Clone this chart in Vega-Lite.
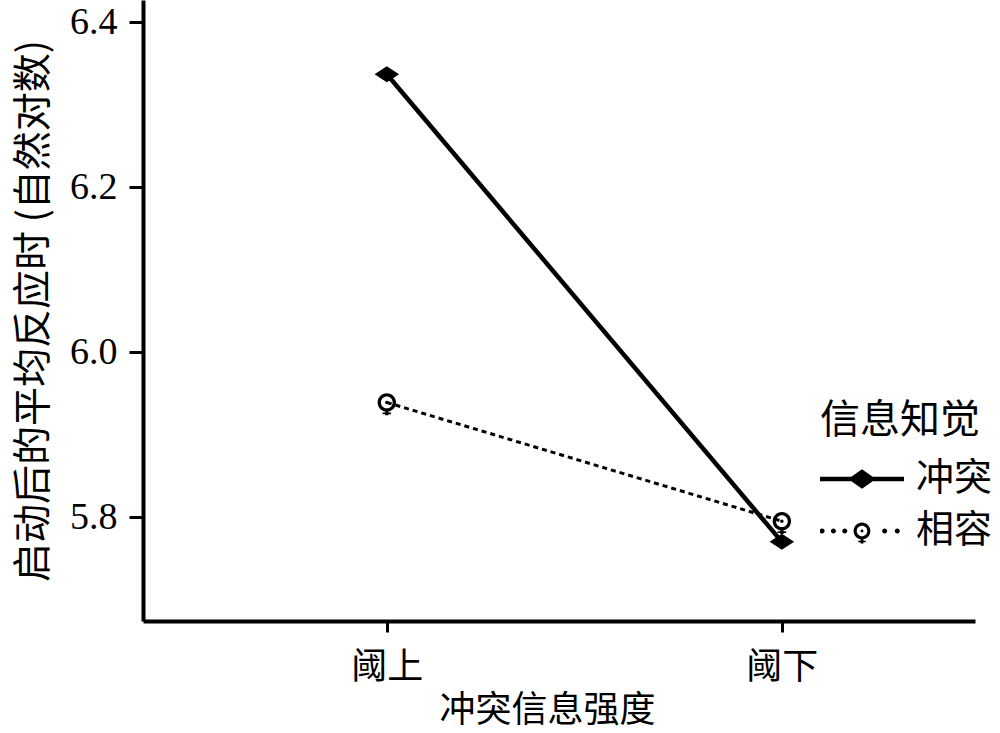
{
  "$schema": "https://vega.github.io/schema/vega-lite/v6.json",
  "width": 832,
  "height": 621,
  "autosize": "none",
  "padding": {"left": 143, "top": 0, "right": 25, "bottom": 112},
  "background": "white",
  "config": {
    "view": {"stroke": null},
    "font": "Noto Sans CJK SC"
  },
  "data": {
    "values": [
      {"intensity": "阈上", "group": "冲突", "rt": 6.337},
      {"intensity": "阈下", "group": "冲突", "rt": 5.770},
      {"intensity": "阈上", "group": "相容", "rt": 5.939},
      {"intensity": "阈下", "group": "相容", "rt": 5.795}
    ]
  },
  "encoding": {
    "x": {
      "field": "intensity",
      "type": "nominal",
      "sort": ["阈上", "阈下"],
      "scale": {"type": "point", "padding": 0.553, "align": 0.558},
      "axis": {
        "title": "冲突信息强度",
        "labelAngle": 0,
        "domainColor": "black",
        "domainWidth": 4,
        "tickColor": "black",
        "tickWidth": 3,
        "tickSize": 11,
        "labelFont": "Noto Sans CJK SC",
        "labelFontSize": 36,
        "labelColor": "black",
        "labelPadding": 18,
        "titleFont": "Noto Sans CJK SC",
        "titleFontSize": 36,
        "titleFontWeight": "normal",
        "titleColor": "black",
        "titlePadding": 8,
        "titleX": 404,
        "grid": false
      }
    },
    "y": {
      "field": "rt",
      "type": "quantitative",
      "scale": {"domain": [5.674, 6.427], "nice": false, "zero": false},
      "axis": {
        "title": "启动后的平均反应时 (自然对数)",
        "values": [5.8, 6.0, 6.2, 6.4],
        "format": ".1f",
        "domainColor": "black",
        "domainWidth": 4,
        "tickColor": "black",
        "tickWidth": 3,
        "tickSize": 14,
        "labelFont": "Liberation Serif",
        "labelFontSize": 38,
        "labelColor": "black",
        "labelPadding": 12,
        "titleFont": "Noto Sans CJK SC",
        "titleFontSize": 39,
        "titleFontWeight": "normal",
        "titleColor": "black",
        "titlePadding": 16,
        "grid": false
      }
    }
  },
  "layer": [
    {
      "transform": [{"filter": "datum.group === '冲突'"}],
      "mark": {"type": "line", "color": "black", "strokeWidth": 4.5},
      "encoding": {}
    },
    {
      "transform": [{"filter": "datum.group === '相容'"}],
      "mark": {"type": "line", "color": "black", "strokeWidth": 3, "strokeDash": [5, 4]},
      "encoding": {}
    },
    {
      "transform": [{"filter": "datum.group === '冲突'"}],
      "mark": {"type": "point", "filled": true, "color": "black", "opacity": 1, "size": 600, "strokeWidth": 0,
        "shape": "M-1,0L0,-0.65L1,0L0,0.65Z"}
    },
    {
      "transform": [{"filter": "datum.group === '相容'"}],
      "mark": {"type": "point", "filled": true, "color": "black", "opacity": 1, "size": 600, "strokeWidth": 0,
        "shape": "M0.75,0A0.75,0.75 0 1,1 -0.75,0A0.75,0.75 0 1,1 0.75,0Z M0.48,0A0.48,0.48 0 1,0 -0.48,0A0.48,0.48 0 1,0 0.48,0Z M0.14,0A0.14,0.14 0 1,1 -0.14,0A0.14,0.14 0 1,1 0.14,0Z M-0.14,0.7L0.14,0.7L0.14,1.05L-0.14,1.05Z M-0.35,0.82L0.35,0.82L0.35,0.96L-0.35,0.96Z"}
    },
    {
      "transform": [{"filter": "datum.rt < 0"}],
      "mark": {"type": "point", "filled": true, "color": "black", "opacity": 1, "strokeWidth": 0},
      "encoding": {
        "shape": {
          "field": "group",
          "type": "nominal",
          "scale": {
            "domain": ["冲突", "相容"],
            "range": [
              "M-1,-0.055L1,-0.055L1,0.055L-1,0.055Z M-0.33,0L0,-0.23L0.33,0L0,0.23Z",
              "M-0.89,0A0.06,0.06 0 1,1 -1.01,0A0.06,0.06 0 1,1 -0.89,0Z M-0.62,0A0.06,0.06 0 1,1 -0.74,0A0.06,0.06 0 1,1 -0.62,0Z M-0.35,0A0.06,0.06 0 1,1 -0.47,0A0.06,0.06 0 1,1 -0.35,0Z M0.6,0A0.06,0.06 0 1,1 0.48,0A0.06,0.06 0 1,1 0.6,0Z M0.9,0A0.06,0.06 0 1,1 0.78,0A0.06,0.06 0 1,1 0.9,0Z M0.2,0A0.2,0.2 0 1,1 -0.2,0A0.2,0.2 0 1,1 0.2,0Z M0.125,0A0.125,0.125 0 1,0 -0.125,0A0.125,0.125 0 1,0 0.125,0Z M0.035,0A0.035,0.035 0 1,1 -0.035,0A0.035,0.035 0 1,1 0.035,0Z M-0.035,0.18L0.035,0.18L0.035,0.3L-0.035,0.3Z M-0.09,0.23L0.09,0.23L0.09,0.27L-0.09,0.27Z"
            ]
          },
          "legend": {
            "title": "信息知觉",
            "orient": "none",
            "legendX": 677,
            "legendY": 401,
            "padding": 0,
            "titleFont": "Noto Sans CJK SC",
            "titleFontSize": 40,
            "titleFontWeight": "normal",
            "titleColor": "black",
            "titlePadding": 18,
            "labelFont": "Noto Sans CJK SC",
            "labelFontSize": 38,
            "labelColor": "black",
            "labelOffset": 12,
            "symbolSize": 7056,
            "symbolFillColor": "black",
            "symbolStrokeWidth": 0,
            "symbolOpacity": 1,
            "clipHeight": 40,
            "rowPadding": 12
          }
        }
      }
    }
  ]
}
